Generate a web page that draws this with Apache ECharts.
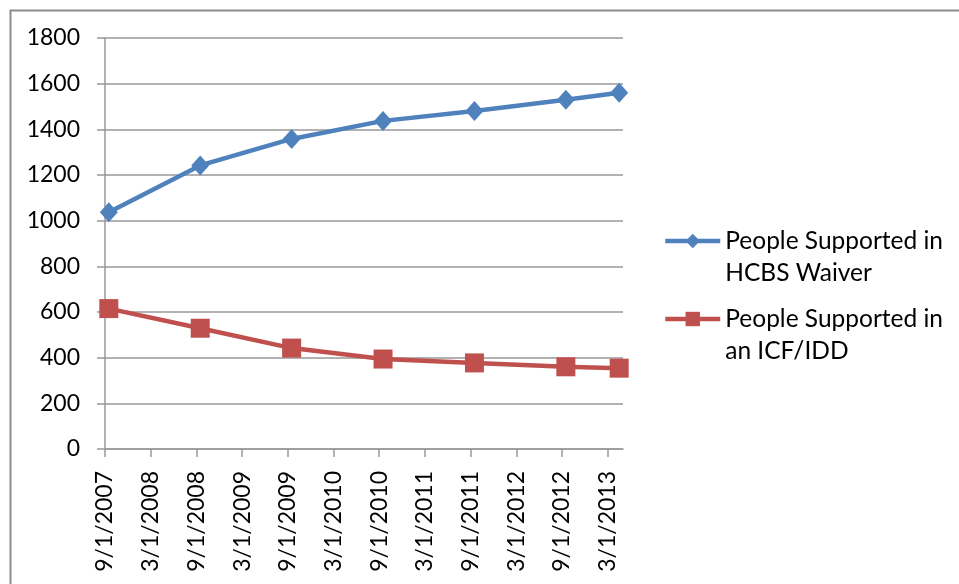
<!DOCTYPE html>
<html>
<head>
<meta charset="utf-8">
<script src="https://cdn.jsdelivr.net/npm/echarts@6/dist/echarts.min.js"></script>
<style>
  html, body { margin: 0; padding: 0; background: #fff; }
  #chart { width: 959px; height: 584px; }
</style>
</head>
<body>
<div id="chart"></div>
<script>
// ---- data ----
const pointDates = ['2007-09', '2008-09', '2009-09', '2010-09', '2011-09', '2012-09', '2013-04'];
const hcbsWaiver = [1037, 1242, 1358, 1437, 1480, 1530, 1560];
const icfIdd = [615, 529, 442, 394, 377, 360, 354];
const tickLabels = ['9/1/2007', '3/1/2008', '9/1/2008', '3/1/2009', '9/1/2009', '3/1/2010',
                    '9/1/2010', '3/1/2011', '9/1/2011', '3/1/2012', '9/1/2012', '3/1/2013'];
const seriesNames = ['People Supported in\nHCBS Waiver', 'People Supported in\nan ICF/IDD'];
const axisStart = '2007-09';
const axisEnd = '2013-05';
const yTicks = [0, 200, 400, 600, 800, 1000, 1200, 1400, 1600, 1800];

// month index helpers (date axis with a base unit of months)
function monthIndex(y, m) {
  const [y0, m0] = axisStart.split('-').map(Number);
  return (y - y0) * 12 + (m - m0);
}
function ymIndex(s) { const [y, m] = s.split('-').map(Number); return monthIndex(y, m); }
function labelIndex(s) { const [m, d, y] = s.split('/').map(Number); return monthIndex(y, m); }

const tickValues = tickLabels.map(labelIndex);
const labelByValue = {};
tickLabels.forEach((l, i) => { labelByValue[tickValues[i]] = l; });

// points sit in the middle of their month slot
const toPoints = vals => vals.map((v, i) => [ymIndex(pointDates[i]) + 0.5, v]);

const font = 'Lato, "Open Sans", sans-serif';
const chart = echarts.init(document.getElementById('chart'), null, { renderer: 'canvas' });
chart.setOption({
  animation: false,
  backgroundColor: '#fff',
  graphic: [{
    type: 'rect', left: 8, top: 8, z: -10, silent: true,
    shape: { width: 1000, height: 700 },
    style: { fill: 'none', stroke: '#8c8c8c', lineWidth: 2 }
  }],
  grid: { left: 105, right: 336, top: 38, bottom: 135, containLabel: false },
  legend: {
    orient: 'vertical',
    left: 658,
    top: 188,
    itemWidth: 55,
    itemHeight: 18,
    itemGap: -18,
    data: seriesNames,
    formatter: name => ' \n' + name,
    lineStyle: { width: 4.5 },
    textStyle: {
      fontFamily: font, fontSize: 24.5, color: '#000',
      lineHeight: 32
    }
  },
  xAxis: {
    type: 'value',
    min: 0,
    max: ymIndex(axisEnd),
    splitLine: { show: false },
    axisLine: { show: true, onZero: false, lineStyle: { color: '#999', width: 1.5 } },
    axisTick: { show: true, length: 8, customValues: tickValues, lineStyle: { color: '#999', width: 1.5 } },
    axisLabel: {
      customValues: tickValues,
      rotate: 90,
      margin: 22,
      fontFamily: font, fontSize: 23, color: '#000',
      formatter: v => labelByValue[v] || ''
    }
  },
  yAxis: {
    type: 'value',
    min: yTicks[0],
    max: yTicks[yTicks.length - 1],
    interval: yTicks[1] - yTicks[0],
    axisLine: { show: true, lineStyle: { color: '#999', width: 1.5 } },
    axisTick: { show: true, length: 8, lineStyle: { color: '#999', width: 1.5 } },
    splitLine: { show: true, lineStyle: { color: '#999', width: 1.5 } },
    axisLabel: { margin: 25, fontFamily: font, fontSize: 23, color: '#000', formatter: v => String(v) }
  },
  series: [
    {
      name: seriesNames[0],
      type: 'line',
      data: toPoints(hcbsWaiver),
      symbol: 'diamond',
      symbolSize: [18, 20],
      color: '#4F81BD',
      lineStyle: { color: '#4F81BD', width: 4.5 },
      itemStyle: { color: '#4F81BD' }
    },
    {
      name: seriesNames[1],
      type: 'line',
      data: toPoints(icfIdd),
      symbol: 'rect',
      symbolSize: 19,
      color: '#C0504D',
      lineStyle: { color: '#C0504D', width: 4.5 },
      itemStyle: { color: '#C0504D' }
    }
  ]
});
</script>
</body>
</html>
